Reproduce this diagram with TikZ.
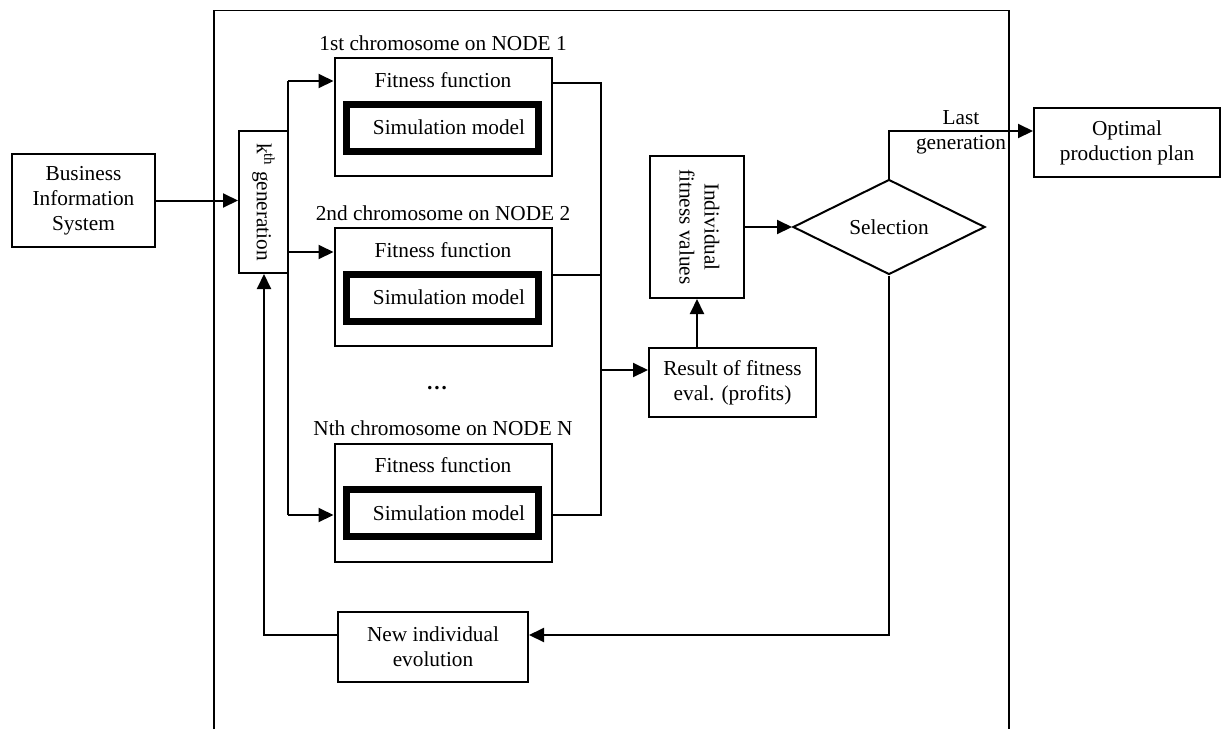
\documentclass[tikz,border=0pt]{standalone}
\usepackage{fontspec}
\setmainfont{Liberation Serif}
\usetikzlibrary{arrows.meta,shapes.geometric}
\tikzset{
  box/.style={draw, line width=2pt, align=center, inner sep=0pt},
  simbox/.style={draw, line width=7pt, minimum width=192pt, minimum height=47pt, inner sep=0pt},
  conn/.style={line width=2pt},
  arr/.style={line width=2pt, -{Triangle[length=15pt,width=14pt]}},
}
\begin{document}
\begin{tikzpicture}[x=1pt,y=-1pt,font=\fontsize{21.3}{25}\selectfont]
    \useasboundingbox (0,0) rectangle (1224,729);
    % outer frame, open at the bottom
    \draw[line width=1.5pt] (214,729) -- (214,10.5) -- (1009,10.5) -- (1009,729);
    \node[box, minimum width=143pt, minimum height=93pt] (bis) at (83.5,200.5) {Business\\Information\\System};
    \node[box, minimum width=49pt, minimum height=142pt] (gen) at (263.5,202) {\rotatebox{-90}{k\textsuperscript{th} generation}};
    \foreach \n/\y/\lbl in {1/117/1st chromosome on NODE 1, 2/287/2nd chromosome on NODE 2, N/502.5/Nth chromosome on NODE N}{
      \node[box, minimum width=217pt, minimum height=118pt] (fit\n) at (443,\y) {};
      \node (ttl\n) at (443,{\y-74}) {\lbl};
      \node (ff\n) at (443,{\y-37}) {Fitness function};
      \node[simbox] (sim\n) at (442,{\y+10.5}) {\hspace*{14pt}Simulation model};
    }
    \node (dots) at (437,388) {\textbf{\dots}};
    \node[box, minimum width=94pt, minimum height=142pt] (ind) at (697,227) {\rotatebox{-90}{\begin{tabular}{@{}c@{}}Individual\\fitness values\end{tabular}}};
    \node[box, minimum width=167pt, minimum height=69pt] (res) at (732.5,382.5) {Result of fitness\\eval. (profits)};
    \node[draw, line width=2pt, diamond, inner sep=0pt, shape aspect=2, minimum width=192pt, minimum height=95pt] (sel) at (889,227) {Selection};
    \node[box, minimum width=186pt, minimum height=69pt] (opt) at (1127,142.5) {Optimal\\production plan};
    \node[box, minimum width=190pt, minimum height=70pt] (new) at (433,647) {New individual\\evolution};
    \node[align=center] (lastlbl) at (961,132.5) {Last\\generation};
    % junction points
    \coordinate (g1) at (288,81); \coordinate (g2) at (288,252); \coordinate (gN) at (288,515);
    \coordinate (o1) at (601,83); \coordinate (o2) at (601,275); \coordinate (oN) at (601,515);
    \coordinate (oR) at (601,370); \coordinate (last) at (889,131);
    \coordinate (back) at (889,635); \coordinate (loop) at (264,635);
    % connectors
    \draw[arr] (bis.east) -- (bis.east -| gen.west);
    \draw[conn] (g1) -- (gN);
    \draw[arr] (g1) -- (g1 -| fit1.west); \draw[arr] (g2) -- (g2 -| fit2.west);
    \draw[arr] (gN) -- (gN -| fitN.west);
    \draw[conn] (o1 -| fit1.east) -- (o1) -- (oN) -- (oN -| fitN.east);
    \draw[conn] (o2 -| fit2.east) -- (o2);
    \draw[arr] (oR) -- (oR -| res.west);
    \draw[arr] (res.north -| ind.south) -- (ind.south);
    \draw[arr] (ind.east) -- (sel.west);
    \draw[arr] (sel.north) -- (last) -- (last -| opt.west);
    \draw[arr] (sel.south) -- (back) -- (back -| new.east);
    \draw[arr] (new.west |- loop) -- (loop) -- (loop |- gen.south);
\end{tikzpicture}
\end{document}
